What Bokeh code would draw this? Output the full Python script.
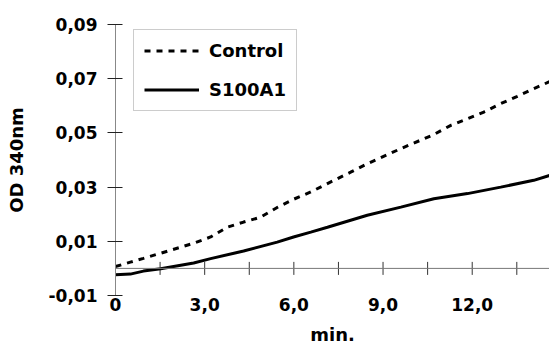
from bokeh.plotting import figure
from bokeh.models import Range1d, FixedTicker, Legend, LegendItem, Span
from bokeh.embed import file_html
from bokeh.resources import INLINE

# data
ctrl_t = [0, 0.5, 0.94, 1.52, 2.63, 3.2, 3.76, 4.31, 4.88, 5.44, 5.99, 6.57, 7.13,
          7.91, 8.47, 9.6, 10.71, 11.28, 11.84, 12.39, 12.96, 13.52, 14.07, 14.6]
ctrl_y = [0.0007, 0.0023, 0.0037, 0.0056, 0.0093, 0.0116, 0.0152, 0.0171, 0.0189,
          0.0225, 0.0255, 0.0282, 0.0313, 0.0355, 0.0386, 0.0442, 0.0494, 0.0528,
          0.0552, 0.0577, 0.0608, 0.0635, 0.0663, 0.0689]
s100_t = [0, 0.5, 0.94, 1.52, 2.63, 3.2, 4.31, 5.44, 5.99, 6.57, 7.13, 8.47, 9.6,
          10.71, 11.84, 12.96, 14.07, 14.6]
s100_y = [-0.0023, -0.0021, -0.0010, -0.0001, 0.0020, 0.0036, 0.0064, 0.0097, 0.0116,
          0.0134, 0.0152, 0.0196, 0.0226, 0.0257, 0.0276, 0.0300, 0.0325, 0.0343]

x_ticks = [0, 3, 6, 9, 12]
x_labels = ["0", "3,0", "6,0", "9,0", "12,0"]
y_ticks = [-0.01, 0.01, 0.03, 0.05, 0.07, 0.09]
y_labels = ["-0,01", "0,01", "0,03", "0,05", "0,07", "0,09"]
x_minor = [1.5, 3, 4.5, 6, 7.5, 9, 10.5, 12, 13.5]

FONT = "DejaVu Sans"

p = figure(width=549, height=346, output_backend="svg", toolbar_location=None,
           x_range=Range1d(0, 14.6), y_range=Range1d(-0.01, 0.09),
           min_border_left=115, min_border_top=24, min_border_right=0,
           min_border_bottom=10)
p.frame_height = 271
p.outline_line_color = None
p.xgrid.grid_line_color = None
p.ygrid.grid_line_color = None
p.background_fill_color = "white"
p.border_fill_color = "white"

# y axis
ya = p.yaxis[0]
ya.ticker = FixedTicker(ticks=y_ticks)
ya.major_label_overrides = {t: l for t, l in zip(y_ticks, y_labels)}
ya.axis_line_color = "#888888"
ya.major_tick_line_color = "#222222"
ya.major_tick_in = 7
ya.major_tick_out = 8
ya.minor_tick_line_color = None
ya.major_label_standoff = 10
ya.major_label_text_font = FONT
ya.major_label_text_font_style = "bold"
ya.major_label_text_font_size = "17px"
ya.major_label_text_color = "black"
ya.axis_label = "OD 340nm"
ya.axis_label_text_font = FONT
ya.axis_label_text_font_style = "bold"
ya.axis_label_text_font_size = "18px"
ya.axis_label_text_color = "black"
ya.axis_label_standoff = 19

# x axis
xa = p.xaxis[0]
xa.ticker = FixedTicker(ticks=x_ticks)
xa.major_label_overrides = {t: l for t, l in zip(x_ticks, x_labels)}
xa.axis_line_color = None
xa.major_tick_line_color = None
xa.minor_tick_line_color = None
xa.major_tick_out = 0
xa.major_tick_in = 0
xa.major_label_standoff = 2
xa.major_label_text_font = FONT
xa.major_label_text_font_style = "bold"
xa.major_label_text_font_size = "17px"
xa.major_label_text_color = "black"
xa.axis_label = "min."
xa.axis_label_text_font = FONT
xa.axis_label_text_font_style = "bold"
xa.axis_label_text_font_size = "18px"
xa.axis_label_text_color = "black"
xa.axis_label_standoff = 10

# zero line with tick marks
p.add_layout(Span(location=0, dimension="width", line_color="#777777", line_width=1))
p.segment(x0=x_minor, x1=x_minor, y0=[-0.0024] * len(x_minor), y1=[0.0024] * len(x_minor),
          line_color="#333333", line_width=1)

r1 = p.line(ctrl_t, ctrl_y, line_color="black", line_width=3, line_dash="6 6")
r2 = p.line(s100_t, s100_y, line_color="black", line_width=3)

legend = Legend(items=[LegendItem(label="Control", renderers=[r1]),
                       LegendItem(label="S100A1", renderers=[r2])],
                location=(18, 184))
legend.padding = 10
legend.spacing = 18
legend.label_height = 21
legend.glyph_height = 21
legend.glyph_width = 55
legend.label_standoff = 10
legend.label_text_font = FONT
legend.label_text_font_style = "bold"
legend.label_text_font_size = "18px"
legend.label_text_color = "black"
legend.border_line_color = "#999999"
legend.border_line_width = 1
legend.background_fill_color = "white"
legend.background_fill_alpha = 1
p.add_layout(legend, "center")

open("out.html", "w").write(file_html(p, INLINE))
